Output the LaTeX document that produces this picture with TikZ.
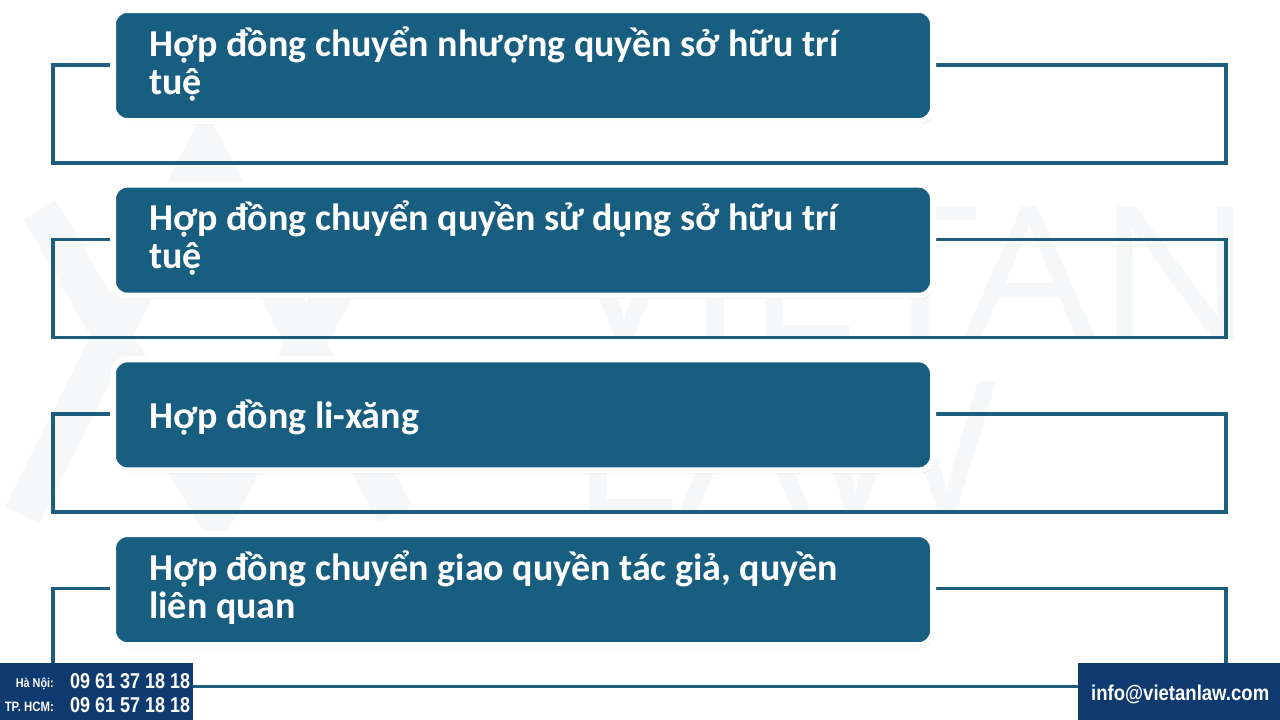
\documentclass[tikz,border=0pt]{standalone}
\usepackage{fontspec}
\setmainfont{Carlito}
\newfontfamily\condfont{Liberation Sans}
\newfontfamily\wmfont{Open Sans}
\usetikzlibrary{shadows}
\definecolor{boxfill}{HTML}{185E81}
\definecolor{linecol}{HTML}{1D5D7E}
\definecolor{navy}{HTML}{0E3A70}
\definecolor{wm}{HTML}{F5F7F9}
\begin{document}
\begin{tikzpicture}[x=1pt,y=-1pt,
  card/.style={rounded corners=14pt, fill=boxfill, draw=white, line width=6pt,
    minimum width=820pt, minimum height=111pt, inner sep=0pt,
    drop shadow={shadow xshift=1.5pt, shadow yshift=-3pt, opacity=0.18, fill=black}},
  frame/.style={draw=linecol, line width=3.5pt},
  label/.style={text=white, font=\bfseries\fontsize{38}{40}\selectfont, anchor=base west, inner sep=0pt},
  contact/.style={fill=navy, draw=none, inner sep=0pt, anchor=north west},
  ctext/.style={text=white, inner sep=0pt, font=\condfont\bfseries}
]
\useasboundingbox (0,0) rectangle (1280,720);
\fill[white] (0,0) rectangle (1280,720);

% watermark
\node[wm, anchor=north west, inner sep=0pt] (wm1) at (562,206) {\resizebox{692pt}{133pt}{\wmfont VIETAN}};
\node[wm, anchor=north west, inner sep=0pt] (wm2) at (568,381) {\resizebox{432pt}{132pt}{\wmfont LAW}};
\draw[wm, line width=38pt] (22,515) -- (205,150) -- (395,515);
\draw[wm, line width=38pt] (40,210) -- (215,515) -- (335,290);

% frames
\foreach \k in {0,1,2,3}{
  \draw[frame] (53,{65+174.5*\k}) rectangle (1226,{163+174.5*\k});
}

% cards
\node[card] (c1) at (523,65.5) {};
\node[card] (c2) at (523,240.2) {};
\node[card] (c3) at (523,414.9) {};
\node[card] (c4) at (523,589.6) {};

% texts
\node[label] (t1a) at (149,56) {Hợp đồng chuyển nhượng quyền sở hữu trí};
\node[label] (t1b) at (149,94) {tuệ};
\node[label] (t2a) at (149,230.7) {Hợp đồng chuyển quyền sử dụng sở hữu trí};
\node[label] (t2b) at (149,268.7) {tuệ};
\node[label] (t3) at (149,428) {Hợp đồng li-xăng};
\node[label] (t4a) at (149,580.4) {Hợp đồng chuyển giao quyền tác giả, quyền};
\node[label] (t4b) at (149,618.4) {liên quan};

% contact boxes
\node[contact, minimum width=193pt, minimum height=57pt] (hl) at (0,663) {};
\node[contact, minimum width=202pt, minimum height=57pt] (em) at (1078,663) {};
\node[ctext, anchor=base east] (hn) at (54,687) {\resizebox{38pt}{9.5pt}{Hà Nội:}};
\node[ctext, anchor=base east] (hcm) at (54,711) {\resizebox{49pt}{9.5pt}{TP. HCM:}};
\node[ctext, anchor=base west] (p1) at (70,688) {\resizebox{120pt}{15pt}{09 61 37 18 18}};
\node[ctext, anchor=base west] (p2) at (70,712) {\resizebox{120pt}{15pt}{09 61 57 18 18}};
\node[ctext, anchor=base west] (mail) at (1091,700) {\resizebox{178pt}{15.5pt}{info@vietanlaw.com}};
\end{tikzpicture}
\end{document}
